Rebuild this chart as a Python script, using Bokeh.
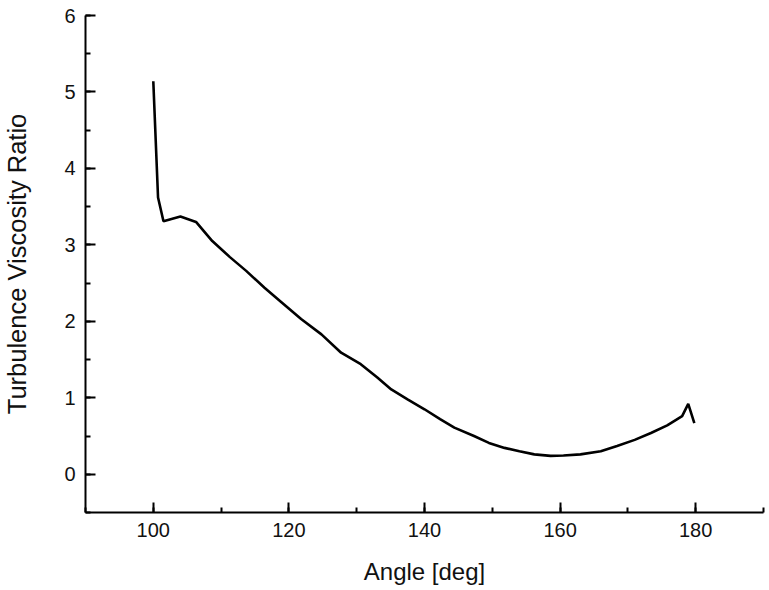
from bokeh.plotting import figure
from bokeh.models import SingleIntervalTicker, Range1d
from bokeh.embed import file_html
from bokeh.resources import INLINE

angle = [100, 100.7, 101.5, 104.0, 106.3, 108.7, 111.3, 113.7, 116.4, 118.9,
         121.8, 124.8, 127.7, 130.6, 133.0, 135.1, 137.5, 140.0, 142.3, 144.4,
         147.3, 149.5, 151.8, 154.0, 156.2, 158.6, 160.5, 163.0, 166.0, 168.4,
         171.0, 173.4, 175.8, 178.0, 178.9, 179.8]
ratio = [5.14, 3.62, 3.31, 3.37, 3.30, 3.05, 2.84, 2.66, 2.44, 2.25,
         2.03, 1.83, 1.59, 1.44, 1.27, 1.11, 0.98, 0.85, 0.72, 0.61,
         0.50, 0.41, 0.345, 0.30, 0.26, 0.24, 0.245, 0.26, 0.30, 0.37,
         0.45, 0.54, 0.64, 0.76, 0.92, 0.67]

x_label = "Angle [deg]"
y_label = "Turbulence Viscosity Ratio"

p = figure(width=769, height=590, output_backend="svg", toolbar_location=None,
           x_range=Range1d(90, 190), y_range=Range1d(-0.5, 6),
           min_border_left=84, min_border_right=6, min_border_top=15, min_border_bottom=78)
p.outline_line_color = None
p.xgrid.visible = False
p.ygrid.visible = False
p.background_fill_color = "white"

p.line(angle, ratio, line_color="black", line_width=2.6)

p.xaxis.ticker = SingleIntervalTicker(interval=20, num_minor_ticks=2)
p.yaxis.ticker = SingleIntervalTicker(interval=1, num_minor_ticks=2)
p.xaxis.axis_label = x_label
p.yaxis.axis_label = y_label

for ax in (p.xaxis, p.yaxis):
    ax.axis_line_width = 2
    ax.axis_line_color = "black"
    ax.major_tick_in = 10
    ax.major_tick_out = 0
    ax.minor_tick_in = 5
    ax.minor_tick_out = 0
    ax.major_tick_line_width = 2
    ax.minor_tick_line_width = 2
    ax.major_tick_line_color = "black"
    ax.minor_tick_line_color = "black"
    ax.major_label_text_font = "Liberation Sans"
    ax.major_label_text_font_size = "20px"
    ax.major_label_text_color = "#111111"
    ax.axis_label_text_font = "Liberation Sans"
    ax.axis_label_text_font_style = "normal"
    ax.axis_label_text_color = "#111111"

p.xaxis.axis_label_text_font_size = "24px"
p.yaxis.axis_label_text_font_size = "25.5px"
p.xaxis.major_label_standoff = 10
p.xaxis.axis_label_standoff = 18
p.yaxis.major_label_standoff = 10
p.yaxis.axis_label_standoff = 30

open("out.html", "w").write(file_html(p, INLINE))
